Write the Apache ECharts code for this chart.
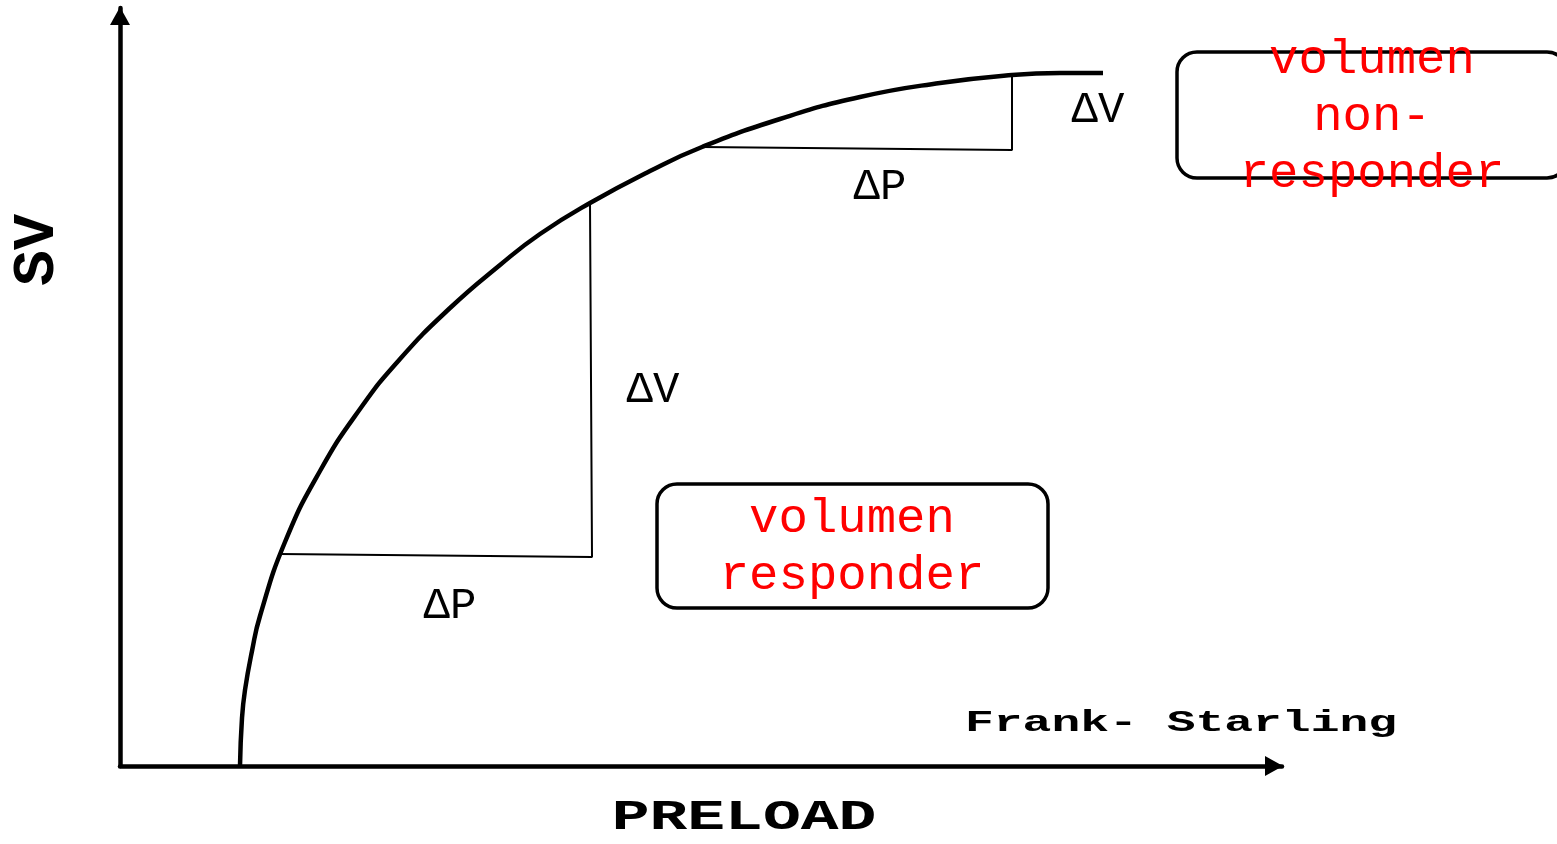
<!DOCTYPE html>
<html>
<head>
<meta charset="utf-8">
<script src="https://cdn.jsdelivr.net/npm/echarts@6/dist/echarts.min.js"></script>
<style>
  html, body { margin: 0; padding: 0; background: #fff; }
  #main { width: 1557px; height: 844px; }
</style>
</head>
<body>
<div id="main"></div>
<script>
// Frank-Starling curve (preload vs stroke volume, arbitrary units)
var curvePreload = [120, 122, 125, 132, 140, 165, 200, 240, 280, 330, 380, 420, 470, 530, 582, 660, 740, 820, 892, 940, 983];
var curveSV = [0, 48, 76, 115, 150, 224, 295, 357, 407, 458, 501, 532, 563, 595, 619, 647, 669, 683, 691, 693, 693];

// steep part: dP and dV triangle
var lowStepPreload = [160, 472, 470];
var lowStepSV = [212, 209, 563];

// flat part: dP and dV triangle
var highStepPreload = [582, 892, 892];
var highStepSV = [619, 616, 691];

function pairs(xs, ys) {
    return xs.map(function (x, i) { return [x, ys[i]]; });
}

var FONT = '"Liberation Mono", "DejaVu Sans Mono", monospace';

var myChart = echarts.init(document.getElementById('main'));

option = {
    animation: false,
    grid: {
        left: 120,
        top: 8,
        width: 1162,
        height: 758
    },
    xAxis: {
        type: 'value',
        min: 0,
        max: 1162,
        axisLine: {
            show: true,
            symbol: ['none', 'triangle'],
            symbolSize: [20, 18],
            symbolOffset: [0, -8],
            lineStyle: { color: '#000', width: 4.5 }
        },
        axisTick: { show: false },
        axisLabel: { show: false },
        splitLine: { show: false }
    },
    yAxis: {
        type: 'value',
        min: 0,
        max: 758,
        axisLine: {
            show: true,
            symbol: ['none', 'triangle'],
            symbolSize: [20, 18],
            symbolOffset: [0, -8],
            lineStyle: { color: '#000', width: 4.5 }
        },
        axisTick: { show: false },
        axisLabel: { show: false },
        splitLine: { show: false }
    },
    series: [{
        name: 'Frank-Starling',
        type: 'line',
        data: pairs(curvePreload, curveSV),
        smooth: true,
        showSymbol: false,
        lineStyle: { color: '#000', width: 4.5 }
    }, {
        name: 'low step',
        type: 'line',
        data: pairs(lowStepPreload, lowStepSV),
        showSymbol: false,
        lineStyle: { color: '#000', width: 2 }
    }, {
        name: 'high step',
        type: 'line',
        data: pairs(highStepPreload, highStepSV),
        showSymbol: false,
        lineStyle: { color: '#000', width: 2 }
    }]
};
myChart.setOption(option);

function px(x, y) {
    return myChart.convertToPixel({ gridIndex: 0 }, [x, y]);
}

// annotation text, in chart units
var deltaLabels = [
    { text: 'ΔP', at: [330, 160] },
    { text: 'ΔV', at: [533, 376] },
    { text: 'ΔP', at: [760, 579] },
    { text: 'ΔV', at: [978, 656] }
];

var boxes = [
    { from: [537, 282], to: [928, 158], lines: ['volumen', 'responder'], firstLine: [732, 247] },
    { from: [1057, 714], to: [1447, 588], lines: ['volumen', 'non-', 'responder'], firstLine: [1252, 706] }
];

var graphics = [];

deltaLabels.forEach(function (d) {
    var p = px(d.at[0], d.at[1]);
    graphics.push({
        type: 'text', x: p[0], y: p[1],
        style: {
            text: d.text, font: '44px ' + FONT, fill: '#000',
            textAlign: 'center', textVerticalAlign: 'middle'
        }
    });
});

boxes.forEach(function (b) {
    var a = px(b.from[0], b.from[1]);
    var c = px(b.to[0], b.to[1]);
    graphics.push({
        type: 'rect',
        shape: { x: a[0], y: a[1], width: c[0] - a[0], height: c[1] - a[1], r: 20 },
        style: { fill: 'none', stroke: '#000', lineWidth: 3.5 }
    });
    var t = px(b.firstLine[0], b.firstLine[1]);
    b.lines.forEach(function (line, i) {
        graphics.push({
            type: 'text', x: t[0], y: t[1] + i * 57,
            style: {
                text: line, font: '49px ' + FONT, fill: '#ff0000',
                textAlign: 'center', textVerticalAlign: 'middle'
            }
        });
    });
});

// axis titles
var svPos = px(-82, 516);
graphics.push({
    type: 'text', x: svPos[0], y: svPos[1], rotation: Math.PI / 2,
    style: {
        text: 'SV', font: 'bold 60px ' + FONT, fill: '#000',
        textAlign: 'center', textVerticalAlign: 'middle'
    }
});

var preloadPos = px(624, -52);
graphics.push({
    type: 'text', x: preloadPos[0], y: preloadPos[1], scaleX: 1.5,
    style: {
        text: 'PRELOAD', font: 'bold 42px ' + FONT, fill: '#000',
        textAlign: 'center', textVerticalAlign: 'middle'
    }
});

var fsPos = px(845, 43);
graphics.push({
    type: 'text', x: fsPos[0], y: fsPos[1], scaleX: 1.6,
    style: {
        text: 'Frank- Starling', font: 'bold 30px ' + FONT, fill: '#000',
        textAlign: 'left', textVerticalAlign: 'middle'
    }
});

myChart.setOption({ graphic: graphics });
</script>
</body>
</html>
